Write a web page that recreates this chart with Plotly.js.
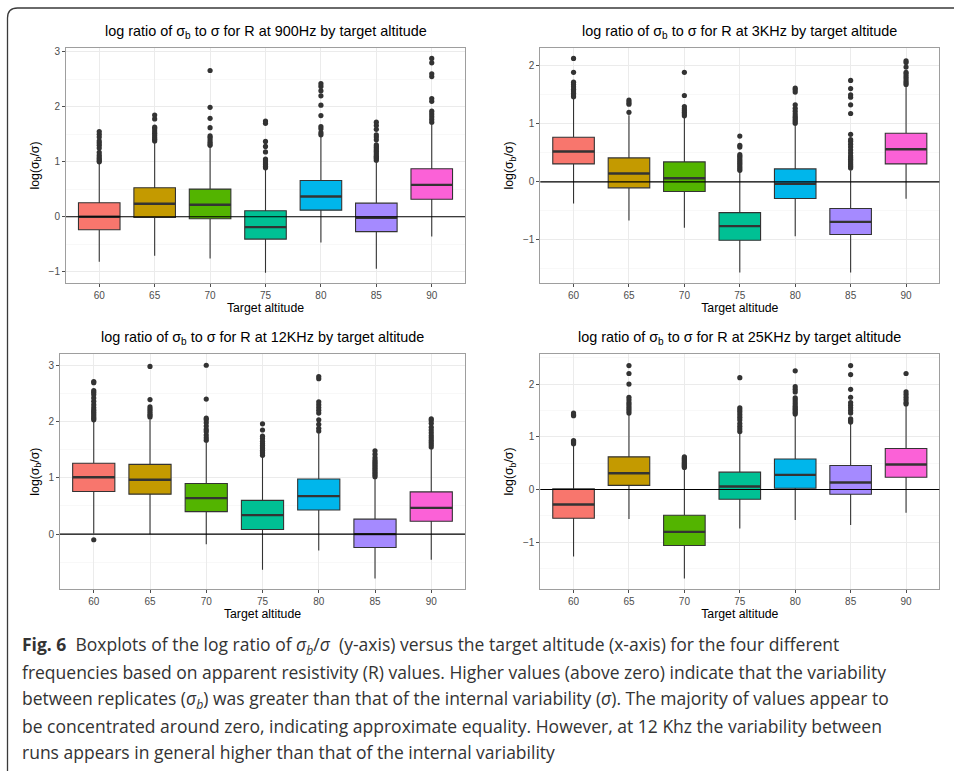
<!DOCTYPE html>
<html>
<head>
<meta charset="utf-8">
<script src="https://cdn.plot.ly/plotly-3.0.1.min.js"></script>
<style>
  html, body { margin: 0; padding: 0; background: #ffffff; }
  #chart { width: 954px; height: 771px; }
</style>
</head>
<body>
<div id="chart"></div>
<script>
// ---------------- DATA ----------------
const altitudes = ['60', '65', '70', '75', '80', '85', '90'];

const panelTitles = [
  'log ratio of σ<sub>b</sub> to σ for R at 900Hz by target altitude',
  'log ratio of σ<sub>b</sub> to σ for R at 3KHz by target altitude',
  'log ratio of σ<sub>b</sub> to σ for R at 12KHz by target altitude',
  'log ratio of σ<sub>b</sub> to σ for R at 25KHz by target altitude'
];
const xTitle = 'Target altitude';
const yTitle = 'log(σ<sub>b</sub>/σ)';

// 900Hz
const q1_900  = [-0.236, -0.012, -0.036, -0.406, 0.12, -0.27, 0.32];
const med_900 = [0.0, 0.236, 0.218, -0.188, 0.37, -0.018, 0.58];
const q3_900  = [0.255, 0.527, 0.503, 0.109, 0.66, 0.248, 0.873];
const lo_900  = [-0.82, -0.71, -0.76, -1.02, -0.47, -0.945, -0.36];
const hi_900  = [0.97, 1.34, 1.28, 0.87, 1.46, 1.0, 1.69];
const out_900 = [
  [1.0, 1.02, 1.05, 1.08, 1.12, 1.17, 1.25, 1.3, 1.34, 1.38, 1.45, 1.5, 1.55],
  [1.38, 1.41, 1.44, 1.48, 1.52, 1.56, 1.6, 1.63, 1.78, 1.85],
  [1.3, 1.33, 1.36, 1.4, 1.44, 1.47, 1.62, 1.79, 1.99, 2.66],
  [0.89, 0.92, 0.95, 0.98, 1.02, 1.05, 1.18, 1.28, 1.37, 1.7, 1.74],
  [1.49, 1.53, 1.6, 1.64, 1.84, 2.03, 2.2, 2.29, 2.37, 2.42],
  [1.03, 1.06, 1.08, 1.1, 1.13, 1.16, 1.19, 1.22, 1.25, 1.28, 1.31, 1.4, 1.45, 1.49, 1.59, 1.66, 1.72],
  [1.72, 1.77, 1.82, 1.87, 1.92, 2.1, 2.15, 2.55, 2.6, 2.8, 2.88]
];

// 3KHz
const q1_3k  = [0.31, -0.103, -0.167, -1.006, -0.287, -0.908, 0.31];
const med_3k = [0.523, 0.144, 0.063, -0.764, -0.034, -0.69, 0.563];
const q3_3k  = [0.77, 0.414, 0.345, -0.53, 0.224, -0.46, 0.84];
const lo_3k  = [-0.374, -0.667, -0.79, -1.563, -0.937, -1.563, -0.293];
const hi_3k  = [1.44, 1.15, 1.1, 0.17, 0.97, 0.2, 1.64];
const out_3k = [
  [1.47, 1.5, 1.53, 1.57, 1.6, 1.64, 1.68, 1.72, 1.89, 2.13],
  [1.2, 1.34, 1.37, 1.41],
  [1.14, 1.17, 1.2, 1.23, 1.26, 1.3, 1.49, 1.89],
  [0.2, 0.23, 0.26, 0.29, 0.32, 0.35, 0.38, 0.41, 0.44, 0.47, 0.6, 0.63, 0.79],
  [1.01, 1.04, 1.07, 1.1, 1.13, 1.17, 1.22, 1.27, 1.33, 1.55, 1.59, 1.62],
  [0.24, 0.27, 0.3, 0.33, 0.36, 0.39, 0.42, 0.45, 0.5, 0.55, 0.6, 0.65, 0.7, 0.73, 0.82, 1.18, 1.33, 1.46, 1.5, 1.61, 1.75],
  [1.68, 1.71, 1.74, 1.78, 1.82, 1.86, 1.89, 1.98, 2.06, 2.09]
];

// 12KHz
const q1_12k  = [0.757, 0.71, 0.4, 0.083, 0.43, -0.237, 0.23];
const med_12k = [1.01, 0.965, 0.64, 0.337, 0.675, 0.0, 0.467];
const q3_12k  = [1.26, 1.24, 0.9, 0.6, 0.98, 0.266, 0.75];
const lo_12k  = [0.01, 0.0, -0.18, -0.633, -0.29, -0.79, -0.456];
const hi_12k  = [2.0, 2.03, 1.64, 1.37, 1.79, 1.0, 1.52];
const out_12k = [
  [-0.1, 2.03, 2.06, 2.09, 2.12, 2.15, 2.18, 2.21, 2.25, 2.3, 2.36, 2.42, 2.48, 2.52, 2.55, 2.69, 2.71],
  [2.08, 2.11, 2.14, 2.18, 2.22, 2.26, 2.39, 2.98],
  [1.67, 1.71, 1.76, 1.82, 1.86, 1.92, 1.98, 2.03, 2.06, 2.4, 3.0],
  [1.4, 1.43, 1.46, 1.49, 1.52, 1.55, 1.58, 1.61, 1.65, 1.7, 1.74, 1.85, 1.96],
  [1.83, 1.88, 1.95, 2.03, 2.15, 2.2, 2.25, 2.3, 2.35, 2.76, 2.8],
  [1.02, 1.05, 1.08, 1.11, 1.14, 1.17, 1.2, 1.23, 1.26, 1.29, 1.32, 1.36, 1.42, 1.48],
  [1.55, 1.59, 1.63, 1.67, 1.71, 1.75, 1.8, 1.85, 1.9, 1.97, 2.02, 2.05]
];

// 25KHz
const q1_25k  = [-0.543, 0.08, -1.06, -0.183, 0.025, -0.088, 0.234];
const med_25k = [-0.284, 0.31, -0.802, 0.057, 0.278, 0.133, 0.474];
const q3_25k  = [0.013, 0.62, -0.486, 0.33, 0.58, 0.455, 0.777];
const lo_25k  = [-1.27, -0.556, -1.687, -0.74, -0.575, -0.67, -0.44];
const hi_25k  = [0.84, 1.42, 0.38, 1.08, 1.4, 1.26, 1.58];
const out_25k = [
  [0.87, 0.89, 0.91, 0.93, 1.4, 1.42, 1.45],
  [1.45, 1.49, 1.53, 1.57, 1.61, 1.65, 1.7, 1.75, 2.0, 2.2, 2.35],
  [0.42, 0.44, 0.46, 0.48, 0.5, 0.52, 0.54, 0.56, 0.58, 0.6, 0.62],
  [1.1, 1.15, 1.2, 1.25, 1.32, 1.37, 1.42, 1.47, 1.51, 1.55, 2.12],
  [1.43, 1.46, 1.49, 1.52, 1.55, 1.58, 1.62, 1.66, 1.7, 1.74, 1.85, 1.9, 1.95, 2.25],
  [1.28, 1.31, 1.34, 1.45, 1.5, 1.55, 1.6, 1.65, 1.75, 1.9, 2.18, 2.35],
  [1.62, 1.65, 1.7, 1.75, 1.8, 1.85, 2.2]
];

const yRanges = [[-1.21, 3.075], [-1.75, 2.315], [-0.98, 3.2], [-1.89, 2.575]];

const captionLines = [
  '<b>Fig. 6</b>  Boxplots of the log ratio of <i>σ<sub>b</sub></i>/<i>σ</i>  (y-axis) versus the target altitude (x-axis) for the four different',
  'frequencies based on apparent resistivity (R) values. Higher values (above zero) indicate that the variability',
  'between replicates (<i>σ<sub>b</sub></i>) was greater than that of the internal variability (<i>σ</i>). The majority of values appear to',
  'be concentrated around zero, indicating approximate equality. However, at 12 Khz the variability between',
  'runs appears in general higher than that of the internal variability'
];

// ---------------- STYLE ----------------
const boxColors = ['#F8766D', '#C49A00', '#53B400', '#00C094', '#00B6EB', '#A58AFF', '#FB61D7'];
const W = 954, H = 771;
const BOXW = 0.75;
const FONT = 'Liberation Sans, Arial, sans-serif';
const px = v => v / W;
const py = v => 1 - v / H;

const panels = [
  {q1: q1_900, med: med_900, q3: q3_900, lo: lo_900, hi: hi_900, out: out_900, xd: [66, 465],    yd: [47.7, 283.3]},
  {q1: q1_3k,  med: med_3k,  q3: q3_3k,  lo: lo_3k,  hi: hi_3k,  out: out_3k,  xd: [540.3, 939.3], yd: [47.7, 283.3]},
  {q1: q1_12k, med: med_12k, q3: q3_12k, lo: lo_12k, hi: hi_12k, out: out_12k, xd: [60, 465],    yd: [354, 589.3]},
  {q1: q1_25k, med: med_25k, q3: q3_25k, lo: lo_25k, hi: hi_25k, out: out_25k, xd: [540.3, 939.3], yd: [353.7, 589.3]}
];

const data = [];
const layout = {
  width: W, height: H,
  margin: {l: 0, r: 0, t: 0, b: 0},
  paper_bgcolor: '#ffffff',
  plot_bgcolor: '#ffffff',
  showlegend: false,
  font: {family: FONT, color: '#000000'},
  annotations: [],
  shapes: []
};

panels.forEach((p, k) => {
  const sfx = k === 0 ? '' : String(k + 1);
  const xa = 'x' + sfx, ya = 'y' + sfx;
  const idx = altitudes.map((_, i) => i);

  // boxes
  altitudes.forEach((a, i) => {
    data.push({
      type: 'box', xaxis: xa, yaxis: ya,
      x: [i], q1: [p.q1[i]], median: [p.med[i]], q3: [p.q3[i]],
      lowerfence: [p.lo[i]], upperfence: [p.hi[i]],
      width: BOXW, whiskerwidth: 0, boxpoints: false,
      fillcolor: boxColors[i],
      line: {color: '#333333', width: 1.1},
      hoverinfo: 'skip', name: a
    });
  });

  // thick median segments
  const mx = [], my = [];
  altitudes.forEach((a, i) => {
    mx.push(i - BOXW / 2, i + BOXW / 2, null);
    my.push(p.med[i], p.med[i], null);
  });
  data.push({type: 'scatter', mode: 'lines', xaxis: xa, yaxis: ya, x: mx, y: my,
    line: {color: '#333333', width: 2.4}, hoverinfo: 'skip'});

  // outliers
  const ox = [], oy = [];
  p.out.forEach((vals, i) => vals.forEach(v => { ox.push(i); oy.push(v); }));
  data.push({type: 'scatter', mode: 'markers', xaxis: xa, yaxis: ya, x: ox, y: oy,
    marker: {color: '#333333', size: 5.2}, hoverinfo: 'skip'});

  layout['xaxis' + sfx] = {
    domain: [px(p.xd[0]), px(p.xd[1])],
    anchor: ya,
    range: [-0.6, 6.6],
    tickmode: 'array', tickvals: idx, ticktext: altitudes,
    ticks: 'outside', ticklen: 3, tickwidth: 1, tickcolor: '#4d4d4d',
    tickfont: {family: FONT, size: 10, color: '#4D4D4D'},
    showgrid: true, gridcolor: '#EBEBEB', gridwidth: 1,
    zeroline: false,
    showline: true, mirror: true, linecolor: '#9e9e9e', linewidth: 1,
    title: {text: xTitle, font: {family: FONT, size: 12.3, color: '#000000'}, standoff: 1},
    fixedrange: true
  };
  layout['yaxis' + sfx] = {
    domain: [py(p.yd[1]), py(p.yd[0])],
    anchor: xa,
    range: yRanges[k],
    tickmode: 'linear', tick0: 0, dtick: 1,
    ticks: 'outside', ticklen: 3, tickwidth: 1, tickcolor: '#4d4d4d',
    tickfont: {family: FONT, size: 10, color: '#4D4D4D'},
    showgrid: true, gridcolor: '#EBEBEB', gridwidth: 1,
    minor: {dtick: 0.5, showgrid: true, gridcolor: '#F3F3F3', gridwidth: 0.6},
    zeroline: false,
    showline: true, mirror: true, linecolor: '#9e9e9e', linewidth: 1,
    title: {text: yTitle, font: {family: FONT, size: 12.3, color: '#000000'}, standoff: 6},
    fixedrange: true
  };

  // reference line at zero, drawn above boxes
  layout.shapes.push({type: 'line', xref: xa + ' domain', yref: ya,
    x0: 0, x1: 1, y0: 0, y1: 0, layer: 'above', line: {color: '#000000', width: 1.1}});

  // panel title
  layout.annotations.push({text: panelTitles[k], xref: xa + ' domain', yref: ya + ' domain',
    x: 0.5, y: 1, xanchor: 'center', yanchor: 'bottom', yshift: 5, showarrow: false,
    font: {family: FONT, size: 14.4, color: '#000000'}});
});

// caption
const capY = [645, 672, 699, 726, 752];
captionLines.forEach((t, i) => {
  layout.annotations.push({text: t, xref: 'paper', yref: 'paper', x: px(20), y: py(capY[i]),
    xanchor: 'left', yanchor: 'middle', showarrow: false, align: 'left',
    font: {family: 'Open Sans, sans-serif', size: 17.5, color: '#333333'}});
});

// outer frame with rounded top-left corner
const r = 10, fx = 7.5, fy = 8;
layout.shapes.push({type: 'path', xref: 'paper', yref: 'paper', layer: 'above',
  path: `M ${px(fx)},${py(H + 5)} L ${px(fx)},${py(fy + r)} Q ${px(fx)},${py(fy)} ${px(fx + r)},${py(fy)} L ${px(W + 5)},${py(fy)}`,
  line: {color: '#3a3a3a', width: 1.3}});

Plotly.newPlot('chart', data, layout, {staticPlot: true, displayModeBar: false});
</script>
</body>
</html>
